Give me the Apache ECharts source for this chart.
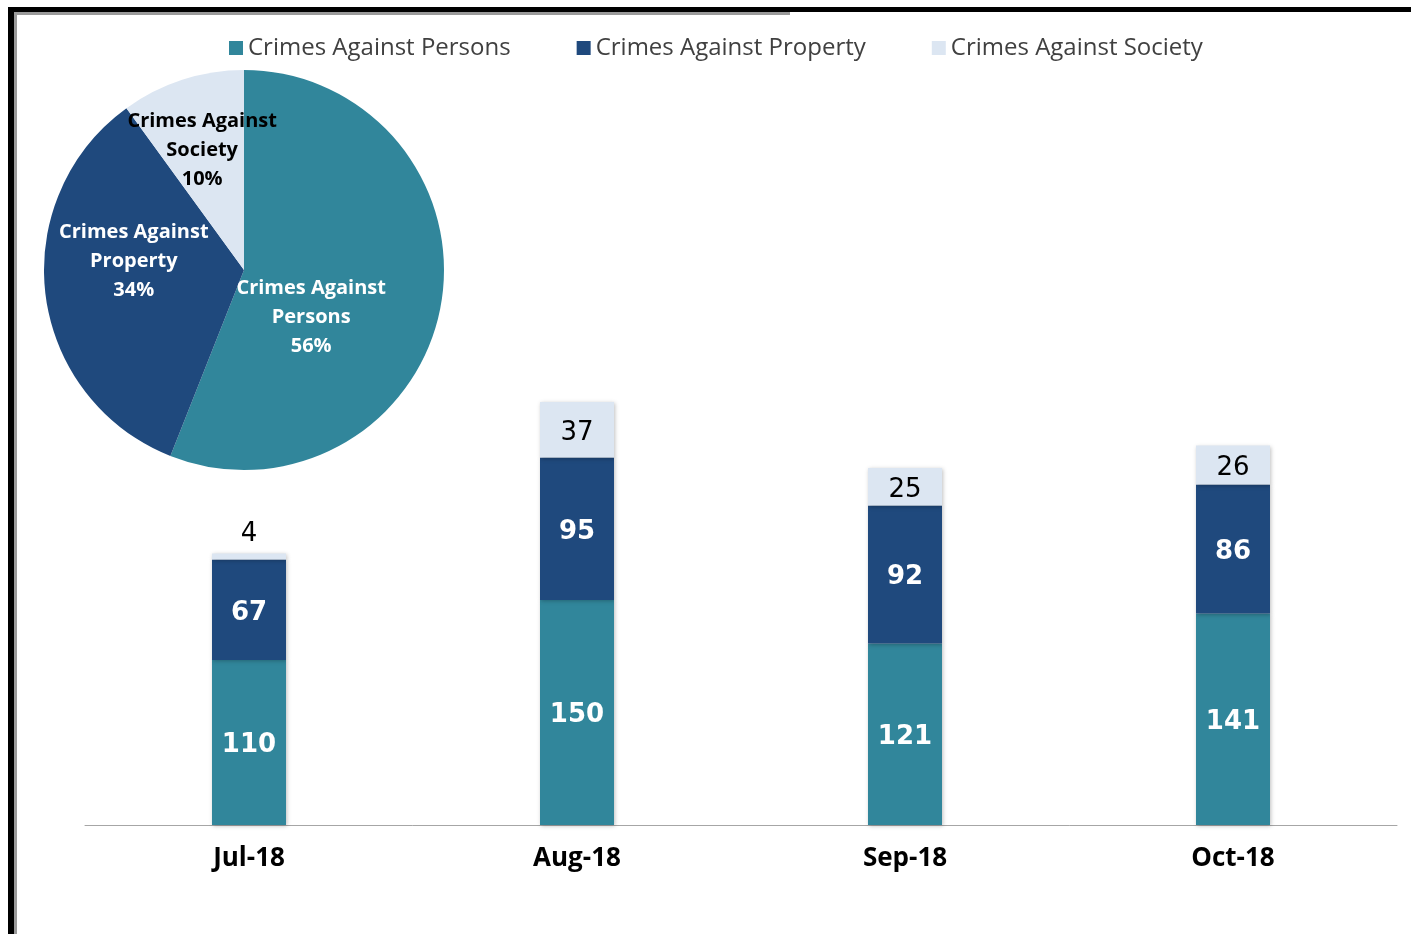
<!DOCTYPE html>
<html>
<head>
<meta charset="utf-8">
<script src="https://cdn.jsdelivr.net/npm/echarts@6/dist/echarts.min.js"></script>
<style>
  html, body { margin: 0; padding: 0; background: #fff; }
  #chart { width: 1411px; height: 934px; }
</style>
</head>
<body>
<div id="chart"></div>
<script>
// data
const months = ["Jul-18", "Aug-18", "Sep-18", "Oct-18"];
const seriesNames = ["Crimes Against Persons", "Crimes Against Property", "Crimes Against Society"];
const persons = [110, 150, 121, 141];
const property = [67, 95, 92, 86];
const society = [4, 37, 25, 26];
const pieShares = [56, 34, 10];

const colors = ["#31869b", "#1f497d", "#dce6f2"];
const labelFont = "DejaVu Sans";
const textFont = "Open Sans";

const chart = echarts.init(document.getElementById("chart"));

const barShadow = {
    shadowBlur: 4,
    shadowColor: "rgba(0, 0, 0, 0.25)",
    shadowOffsetX: 1,
    shadowOffsetY: 1
};

function barSeries(name, values, color, textColor, bold) {
    return {
        name: name,
        type: "bar",
        stack: "total",
        barWidth: 74,
        itemStyle: Object.assign({ color: color }, barShadow),
        label: {
            show: true,
            position: "inside",
            offset: [0, 3],
            color: textColor,
            fontFamily: labelFont,
            fontSize: 26,
            fontWeight: bold ? "bold" : "normal"
        },
        data: values
    };
}

// small society segment gets its label on top (as in Jul-18)
const societyData = society.map(v => v < 10
    ? { value: v, label: { position: "top", distance: 6, offset: [0, 0], color: "#000" } }
    : v);

// nudges for the pie labels so they sit where the original ones do
const pieLabelShift = [[-34, 28], [-8, -22], [-10, -22]];

const option = {
    animation: false,
    backgroundColor: "#fff",
    color: colors,
    legend: {
        top: 31,
        left: 224,
        itemWidth: 14,
        itemHeight: 14,
        itemGap: 66,
        icon: "rect",
        data: seriesNames,
        textStyle: { fontFamily: textFont, fontSize: 24, color: "#404040" }
    },
    grid: { left: 85, right: 14, top: 375, bottom: 109 },
    xAxis: {
        type: "category",
        data: months,
        axisLine: { lineStyle: { color: "#a6a6a6", width: 1 } },
        axisTick: { show: false },
        axisLabel: {
            margin: 21,
            fontFamily: textFont,
            fontSize: 26,
            fontWeight: "bold",
            color: "#000"
        }
    },
    yAxis: { type: "value", min: 0, max: 300, show: false },
    series: [
        barSeries(seriesNames[0], persons, colors[0], "#fff", true),
        barSeries(seriesNames[1], property, colors[1], "#fff", true),
        barSeries(seriesNames[2], societyData, colors[2], "#000", false),
        {
            type: "pie",
            center: [244, 270],
            radius: 200,
            startAngle: 90,
            clockwise: true,
            z: 5,
            label: {
                show: true,
                position: "inside",
                formatter: p => p.name.replace("Against ", "Against\n") + "\n" + p.percent + "%",
                fontFamily: textFont,
                fontSize: 20,
                fontWeight: "bold",
                lineHeight: 29,
                color: "#fff"
            },
            labelLayout: function (params) {
                const s = pieLabelShift[params.dataIndex];
                return { dx: s[0], dy: s[1] };
            },
            data: seriesNames.map((n, i) => ({
                name: n,
                value: pieShares[i],
                itemStyle: { color: colors[i] },
                label: i === 2 ? { color: "#000" } : undefined
            }))
        }
    ],
    graphic: [
        // frame lines of the original screenshot
        { type: "rect", shape: { x: 8, y: 7, width: 6, height: 927 }, style: { fill: "#000" } },
        { type: "rect", shape: { x: 14, y: 13, width: 3, height: 921 }, style: { fill: "#9a9a9a" } },
        { type: "rect", shape: { x: 8, y: 7, width: 1403, height: 5 }, style: { fill: "#000" } },
        { type: "rect", shape: { x: 14, y: 12, width: 776, height: 3 }, style: { fill: "#9a9a9a" } }
    ]
};

chart.setOption(option);
</script>
</body>
</html>
